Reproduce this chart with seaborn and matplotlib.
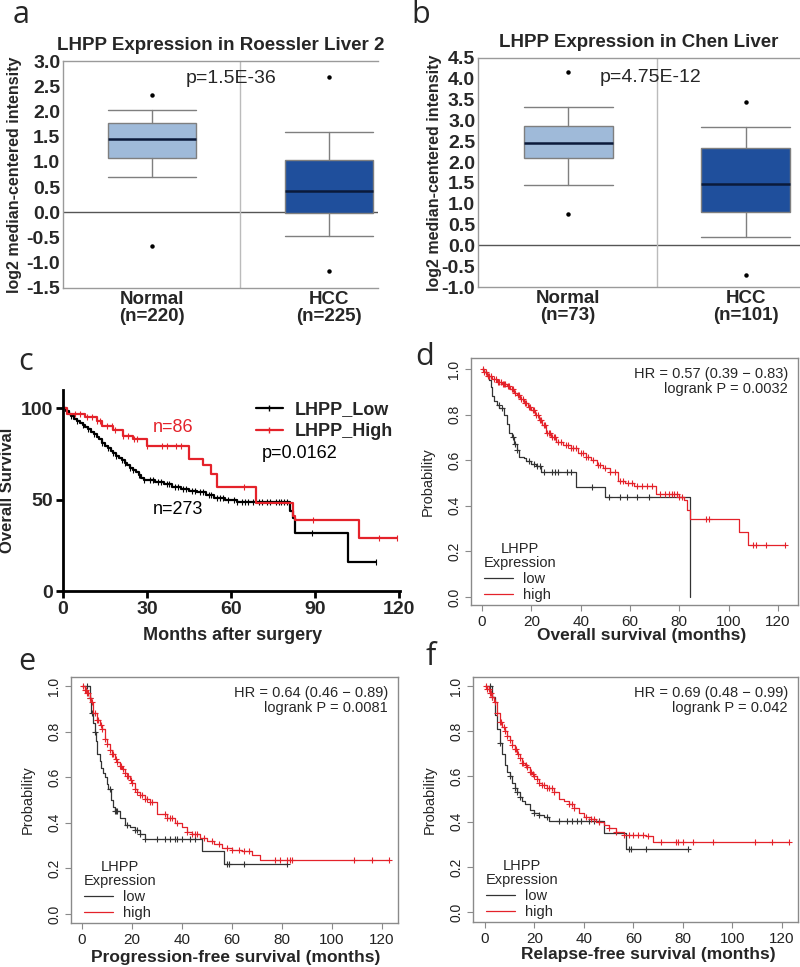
import numpy as np
import matplotlib
matplotlib.use("Agg")
import matplotlib.pyplot as plt
import seaborn as sns
from matplotlib.lines import Line2D

sns.set_style("white")
plt.rcParams["font.family"] = ["Liberation Sans", "DejaVu Sans"]

# ---------------- box plot data (a, b) ----------------
A_LABELS = ["Normal\n(n=220)", "HCC\n(n=225)"]
A_Q1 = [1.07, -0.02]
A_MED = [1.46, 0.43]
A_Q3 = [1.78, 1.03]
A_WLO = [0.70, -0.46]
A_WHI = [2.03, 1.60]
A_OUT = [[2.32, -0.67], [2.68, -1.17]]

B_LABELS = ["Normal\n(n=73)", "HCC\n(n=101)"]
B_Q1 = [2.10, 0.80]
B_MED = [2.45, 1.48]
B_Q3 = [2.86, 2.33]
B_WLO = [1.46, 0.20]
B_WHI = [3.32, 2.84]
B_OUT = [[4.17, 0.76], [3.45, -0.70]]

# ---------------- survival data (c) ----------------
C_LOW_T = [0, 1, 2, 3, 4, 5, 6, 7, 8, 9, 10, 11, 12, 13, 14, 15, 16, 17, 18, 19, 20,
           21, 22, 23, 24, 25, 26, 27, 28, 29, 30, 33, 36, 39, 42, 45, 48, 51, 54, 58,
           62, 81, 82, 83, 102]
C_LOW_S = [100, 98.5, 97, 95.5, 94, 93, 92, 91, 90, 88.5, 87, 86, 84.5, 83, 81, 79.5,
           78, 76.5, 75.5, 74, 73, 71.5, 70, 69, 67.5, 66, 65, 63.5, 62, 61, 60.5, 59.5,
           58.5, 57, 56, 55, 54, 52.5, 51, 50, 48.5, 44, 40, 32, 16]
C_LOW_END = 112
C_LOW_CENS = [3, 5, 7, 9, 11, 14, 16, 18, 19, 21, 22, 24, 25, 27, 29, 31, 32, 34, 35, 37,
              38, 40, 41, 43, 44, 46, 47, 49, 50, 52, 53, 55, 56, 57, 59, 61, 62, 64, 65,
              66, 68, 70, 71, 73, 74, 76, 77, 78, 79, 80, 89, 112]

C_HIGH_T = [0, 1.5, 8, 12, 14, 18, 21.5, 25, 30, 45, 50, 53, 55, 69, 82, 83, 105.6]
C_HIGH_S = [100, 97, 95, 93, 90.5, 88, 85, 83, 79.5, 72.5, 69, 64, 57, 48, 41, 39, 29]
C_HIGH_END = 119.5
C_HIGH_CENS = [4.2, 6, 8.4, 10.2, 12, 13.2, 15.6, 17.4, 18.6, 21.6, 23.4, 25.2, 26.4, 30,
               35.4, 37.2, 40.2, 42, 64.6, 89.4, 112.8, 119.5]

# ---------------- survival data (d) ----------------
D_LOW_T = [0, 1, 2, 2.7, 3.5, 4, 5, 6, 7, 8.8, 10, 10.8, 12, 13, 14, 15, 17, 18, 20, 22,
           24, 38, 50, 84.5]
D_LOW_S = [1.0, 0.985, 0.97, 0.95, 0.92, 0.88, 0.86, 0.84, 0.83, 0.80, 0.76, 0.72, 0.70,
           0.67, 0.645, 0.615, 0.61, 0.595, 0.585, 0.575, 0.548, 0.483, 0.44, 0.0]
D_LOW_END = 84.5
D_LOW_CENS = [6.8, 8, 12.5, 13.5, 14.2, 19, 21, 22.3, 23.6, 25, 28.4, 29.7, 31, 34.5, 36,
              44.6, 51.4, 56, 58.8, 62.8, 67.6]

D_HIGH_T = [0, 1, 2, 4, 6, 8, 10, 11.5, 13, 14, 15.5, 17, 18.5, 20, 21.5, 23, 24.5, 26, 28,
            30, 33, 36, 39, 42, 44, 46.6, 49, 52, 55, 58, 61.5, 70.5, 80, 82, 83, 84.5,
            104, 108]
D_HIGH_S = [1.0, 0.985, 0.97, 0.955, 0.944, 0.935, 0.925, 0.91, 0.895, 0.886, 0.87, 0.85,
            0.835, 0.82, 0.80, 0.776, 0.755, 0.72, 0.70, 0.68, 0.665, 0.655, 0.63, 0.615,
            0.60, 0.58, 0.565, 0.55, 0.51, 0.50, 0.485, 0.45, 0.44, 0.425, 0.38, 0.34,
            0.285, 0.227]
D_HIGH_END = 123
D_HIGH_CENS = [0.5, 1, 1.5, 2.5, 3, 3.5, 5, 5.5, 6.5, 7, 7.5, 8.5, 9, 9.5, 10.5, 11, 12,
               12.5, 13.5, 14.5, 15, 16, 16.5, 17.5, 18, 19, 19.5, 20.5, 21, 22, 22.5,
               23.5, 24, 25, 25.5, 26.5, 27, 27.5, 28.5, 29, 29.5, 31, 32, 34, 35, 36, 37,
               38, 40, 41, 42, 43, 45, 47, 48, 50, 52, 54, 56, 57, 59, 61, 63, 65, 67, 69,
               72, 74, 76, 77, 78, 79, 80, 81, 91, 92, 110, 111, 115, 123]

# ---------------- survival data (e) ----------------
E_LOW_T = [0, 3, 3.5, 4.5, 5, 5.5, 6, 7, 7.5, 8.5, 9, 10, 10.5, 11.5, 12.5, 13, 15, 17, 19,
           21, 23, 25, 48, 57]
E_LOW_S = [1.0, 0.95, 0.88, 0.84, 0.80, 0.76, 0.70, 0.67, 0.64, 0.62, 0.60, 0.57, 0.55,
           0.50, 0.47, 0.45, 0.42, 0.39, 0.38, 0.37, 0.35, 0.33, 0.275, 0.22]
E_LOW_END = 82
E_LOW_CENS = [2, 3, 4, 5, 11, 13, 13.5, 14, 18, 21, 22, 23, 25, 30, 33, 35, 37, 38, 40, 43,
              45, 58, 59, 65, 82]

E_HIGH_T = [0, 1, 2, 3, 3.5, 4.5, 6, 7, 8, 9, 10, 11, 12, 13, 14, 15, 16, 17, 18, 19, 20,
            21, 22, 23, 25, 27, 30, 34, 37, 40, 42, 44, 47, 50, 53, 56, 60, 64, 68, 71]
E_HIGH_S = [1.0, 0.985, 0.97, 0.95, 0.93, 0.88, 0.85, 0.83, 0.81, 0.77, 0.745, 0.72, 0.70,
            0.68, 0.665, 0.65, 0.635, 0.62, 0.605, 0.59, 0.575, 0.55, 0.535, 0.52, 0.505,
            0.49, 0.44, 0.42, 0.40, 0.38, 0.36, 0.35, 0.335, 0.32, 0.305, 0.29, 0.28,
            0.275, 0.26, 0.235]
E_HIGH_END = 123
E_HIGH_CENS = [0.5, 1, 1.5, 2, 2.5, 3, 4, 5, 6, 6.5, 7.5, 8, 9, 10, 11, 12, 12.5, 13.5,
               14, 15, 15.5, 16.5, 17, 18, 18.5, 19.5, 20, 21, 22, 23, 24, 25, 26, 27,
               28, 33, 34, 35, 36, 38, 42, 44, 45, 46, 49, 52, 55, 58, 60, 63, 65, 67, 77,
               79, 82, 83, 84, 109, 116, 123]

# ---------------- survival data (f) ----------------
F_LOW_T = [0, 3, 4, 5, 6, 7, 8, 9, 10, 11, 12, 13, 14, 15, 16, 18, 20, 22, 24, 26, 48, 57]
F_LOW_S = [1.0, 0.95, 0.87, 0.81, 0.75, 0.70, 0.65, 0.62, 0.60, 0.57, 0.55, 0.53, 0.51,
           0.49, 0.48, 0.45, 0.44, 0.43, 0.42, 0.405, 0.35, 0.28]
F_LOW_END = 82
F_LOW_CENS = [2, 3, 6, 10, 12, 13, 14, 20, 22, 25, 30, 33, 35, 37, 39, 42, 44, 46, 58, 59,
              65, 82]

F_HIGH_T = [0, 1, 2, 3, 3.5, 5, 6, 7, 8, 9, 10, 11, 12, 13, 14, 15, 16, 17, 18, 19, 20, 21,
            22, 23, 25, 28, 30, 32, 34, 36, 38, 40, 43, 45, 48, 50, 53, 56, 65, 68]
F_HIGH_S = [1.0, 0.985, 0.97, 0.95, 0.93, 0.88, 0.84, 0.82, 0.80, 0.78, 0.76, 0.74, 0.72,
            0.70, 0.68, 0.66, 0.65, 0.64, 0.62, 0.61, 0.60, 0.59, 0.57, 0.56, 0.55, 0.53,
            0.50, 0.49, 0.48, 0.46, 0.44, 0.42, 0.41, 0.40, 0.385, 0.37, 0.355, 0.34,
            0.335, 0.31]
F_HIGH_END = 123
F_HIGH_CENS = [0.5, 1, 1.5, 2, 2.5, 3, 4, 5, 6, 6.5, 7.5, 8, 9, 10, 11, 12, 12.5, 13.5,
               14, 15, 15.5, 16.5, 17, 18, 18.5, 19.5, 20, 21, 22, 23, 24, 25, 26, 27,
               28, 34, 35, 36, 41, 43, 44, 46, 50, 53, 56, 58, 60, 62, 64, 66, 71, 77, 78,
               80, 84, 92, 109, 116, 123]

BOX_COLORS = ["#9fbad9", "#1f4f9c"]
GRAY = "#8a8a8a"
RED = "#e4222a"

fig = plt.figure(figsize=(8, 9.67), dpi=100)


def add_ax(left, top, right, bottom):
    return fig.add_axes([left / 800, 1 - bottom / 967, (right - left) / 800, (bottom - top) / 967])


def box_panel(ax, labels, q1, med, q3, wlo, whi, outs, ylim, xlim, title, ptext, ppos, ylab_x):
    stats = [dict(label=labels[i], q1=q1[i], med=med[i], q3=q3[i], whislo=wlo[i],
                  whishi=whi[i], fliers=outs[i]) for i in range(2)]
    ax.axhline(0, color="#555555", lw=1, zorder=1)
    ax.axvline(0.5, color="#bbbbbb", lw=1, zorder=1)
    bp = ax.bxp(stats, positions=[0, 1], widths=0.5, capwidths=0.5, patch_artist=True,
                boxprops=dict(edgecolor="#7f7f7f", lw=1),
                whiskerprops=dict(color="#7f7f7f", lw=1),
                capprops=dict(color="#7f7f7f", lw=1),
                medianprops=dict(color="#0b1a3a", lw=1.8),
                flierprops=dict(marker="o", ms=2.2, mfc="black", mec="black"))
    for patch, c in zip(bp["boxes"], BOX_COLORS):
        patch.set_facecolor(c)
        patch.set_zorder(2)
    ax.set_ylim(*ylim)
    ax.set_xlim(*xlim)
    ticks = np.arange(ylim[0], ylim[1] + 0.01, 0.5)
    ax.set_yticks(ticks)
    ax.set_yticklabels([f"{t:.1f}" for t in ticks], fontweight="bold", fontsize=14)
    ax.set_xticks([0, 1])
    ax.set_xticklabels(labels, fontweight="bold", fontsize=13.5, linespacing=1.0)
    ax.tick_params(axis="both", length=0, pad=2)
    for s in ["left", "top", "bottom"]:
        ax.spines[s].set_color("#9a9a9a")
        ax.spines[s].set_linewidth(1)
    ax.spines["right"].set_visible(False)
    ax.set_ylabel("log2 median-centered intensity", fontweight="bold", fontsize=11.5)
    ax.yaxis.set_label_coords(ylab_x, 0.5)
    ax.set_title(title, fontweight="bold", fontsize=13.5, pad=8)
    ax.text(ppos[0], ppos[1], ptext, transform=ax.transAxes, ha="center", va="center",
            fontsize=14)


def step_xy(t, s, end):
    return list(t) + [end], list(s) + [s[-1]]


def surv_at(t, s, x):
    idx = np.searchsorted(np.asarray(t), np.asarray(x), side="right") - 1
    return np.asarray(s)[idx]


def km_curve(ax, t, s, end, cens, color, lw, marker, ms):
    xx, yy = step_xy(t, s, end)
    sns.lineplot(x=xx, y=yy, drawstyle="steps-post", color=color, lw=lw, ax=ax,
                 estimator=None, sort=False)
    ax.plot(cens, surv_at(t, s, cens), ls="none", marker=marker, color=color, ms=ms,
            mew=0.8)


def r_panel(ax, low, high, xlim, ylim, hr_text, xlabel, xlab_pos, ylab_x):
    km_curve(ax, *low, "#333333", 0.9, "+", 4)
    km_curve(ax, *high, RED, 0.9, "+", 4)
    ax.set_xlim(*xlim)
    ax.set_ylim(*ylim)
    ax.set_xticks(range(0, 121, 20))
    ax.set_yticks(np.arange(0, 1.01, 0.2))
    ax.set_yticklabels([f"{v:.1f}" for v in np.arange(0, 1.01, 0.2)], rotation=90,
                       va="center", fontsize=10)
    ax.tick_params(axis="x", labelsize=11)
    ax.tick_params(axis="both", direction="out", length=4, width=0.8, color=GRAY,
                   labelcolor="#222222", pad=3, left=True, bottom=True)
    for sp in ax.spines.values():
        sp.set_color(GRAY)
        sp.set_linewidth(1)
    ax.set_ylabel("Probability", fontsize=10.5)
    ax.yaxis.set_label_coords(ylab_x, 0.5)
    ax.set_xlabel(xlabel, fontweight="bold", fontsize=12.5)
    ax.xaxis.set_label_coords(*xlab_pos)
    ax.text(0.969, 0.965, hr_text, transform=ax.transAxes, ha="right", va="top",
            fontsize=10.5, linespacing=1.15)
    handles = [Line2D([], [], color="#333333", lw=0.9), Line2D([], [], color=RED, lw=0.9)]
    leg = ax.legend(handles, ["low", "high"], title="LHPP\nExpression", loc="lower left",
                    bbox_to_anchor=(0.004, -0.035), frameon=False, fontsize=10.5,
                    title_fontsize=10.5, handlelength=2.0, handletextpad=0.7,
                    labelspacing=0.12, borderpad=0.3)
    leg.get_title().set_multialignment("center")
    leg.get_title().set_linespacing(1.0)
    leg._legend_box.align = "left"


# ---- a ----
ax_a = add_ax(63, 61, 378, 288)
box_panel(ax_a, A_LABELS, A_Q1, A_MED, A_Q3, A_WLO, A_WHI, A_OUT, (-1.5, 3.0),
          (-0.504, 1.278), "LHPP Expression in Roessler Liver 2", "p=1.5E-36",
          (0.533, 0.925), -0.130)

# ---- b ----
ax_b = add_ax(478, 58, 800, 287)
box_panel(ax_b, B_LABELS, B_Q1, B_MED, B_Q3, B_WLO, B_WHI, B_OUT, (-1.0, 4.5),
          (-0.507, 1.304), "LHPP Expression in Chen Liver", "p=4.75E-12",
          (0.537, 0.917), -0.112)

# ---- c ----
ax_c = add_ax(63, 390, 400, 591)
km_curve(ax_c, C_LOW_T, C_LOW_S, C_LOW_END, C_LOW_CENS, "black", 1.6, "|", 4)
km_curve(ax_c, C_HIGH_T, C_HIGH_S, C_HIGH_END, C_HIGH_CENS, RED, 1.6, "|", 4)
ax_c.set_xlim(0, 120.4)
ax_c.set_ylim(0, 110)
ax_c.set_xticks([0, 30, 60, 90, 120])
ax_c.set_yticks([0, 50, 100])
for lab in ax_c.get_xticklabels() + ax_c.get_yticklabels():
    lab.set_fontweight("bold")
ax_c.tick_params(axis="both", direction="out", length=5, width=2, labelsize=14, pad=2,
                 left=True, bottom=True, color="black")
for s in ["top", "right"]:
    ax_c.spines[s].set_visible(False)
for s in ["left", "bottom"]:
    ax_c.spines[s].set_color("black")
    ax_c.spines[s].set_linewidth(2)
ax_c.set_ylabel("Overall Survival", fontweight="bold", fontsize=12)
ax_c.yaxis.set_label_coords(-0.142, 0.5)
ax_c.set_xlabel("Months after surgery", fontweight="bold", fontsize=13)
ax_c.xaxis.set_label_coords(0.504, -0.179)
c_handles = [Line2D([], [], color="black", lw=1.6, marker="|", ms=4),
             Line2D([], [], color=RED, lw=1.6, marker="|", ms=4)]
ax_c.legend(c_handles, ["LHPP_Low", "LHPP_High"], loc="upper left",
            bbox_to_anchor=(0.545, 0.99), frameon=False, handlelength=1.5,
            handletextpad=0.65, labelspacing=0.3, borderpad=0,
            prop=dict(weight="bold", size=13))
ax_c.text(39.3, 89.6, "n=86", color=RED, fontsize=13, ha="center", va="center")
ax_c.text(84.6, 75.4, "p=0.0162", color="black", fontsize=13, ha="center", va="center")
ax_c.text(41, 44.8, "n=273", color="black", fontsize=13, ha="center", va="center")

# ---- d ----
ax_d = add_ax(471, 358, 798, 605)
r_panel(ax_d, (D_LOW_T, D_LOW_S, D_LOW_END, D_LOW_CENS),
        (D_HIGH_T, D_HIGH_S, D_HIGH_END, D_HIGH_CENS), (-4.46, 128.1), (-0.035, 1.048),
        "HR = 0.57 (0.39 \u2212 0.83)\nlogrank P = 0.0032", "Overall survival (months)",
        (0.523, -0.093), -0.110)

# ---- e ----
ax_e = add_ax(71, 677, 398, 923)
r_panel(ax_e, (E_LOW_T, E_LOW_S, E_LOW_END, E_LOW_CENS),
        (E_HIGH_T, E_HIGH_S, E_HIGH_END, E_HIGH_CENS), (-4.4, 126.4), (-0.04, 1.04),
        "HR = 0.64 (0.46 \u2212 0.89)\nlogrank P = 0.0081",
        "Progression-free survival (months)", (0.505, -0.11), -0.110)

# ---- f ----
ax_f = add_ax(473, 677, 798, 922)
r_panel(ax_f, (F_LOW_T, F_LOW_S, F_LOW_END, F_LOW_CENS),
        (F_HIGH_T, F_HIGH_S, F_HIGH_END, F_HIGH_CENS), (-4.85, 126.5), (-0.044, 1.04),
        "HR = 0.69 (0.48 \u2212 0.99)\nlogrank P = 0.042",
        "Relapse-free survival (months)", (0.54, -0.102), -0.111)

# panel letters
for letter, (px, py) in zip("abcdef", [(21, 15), (421, 15), (26, 362), (425, 357),
                                       (27, 662), (431, 657)]):
    fig.text(px / 800, 1 - py / 967, letter, fontsize=22, ha="center", va="center",
             family=["Open Sans", "DejaVu Sans"])

fig.savefig("out.png", dpi=100)
